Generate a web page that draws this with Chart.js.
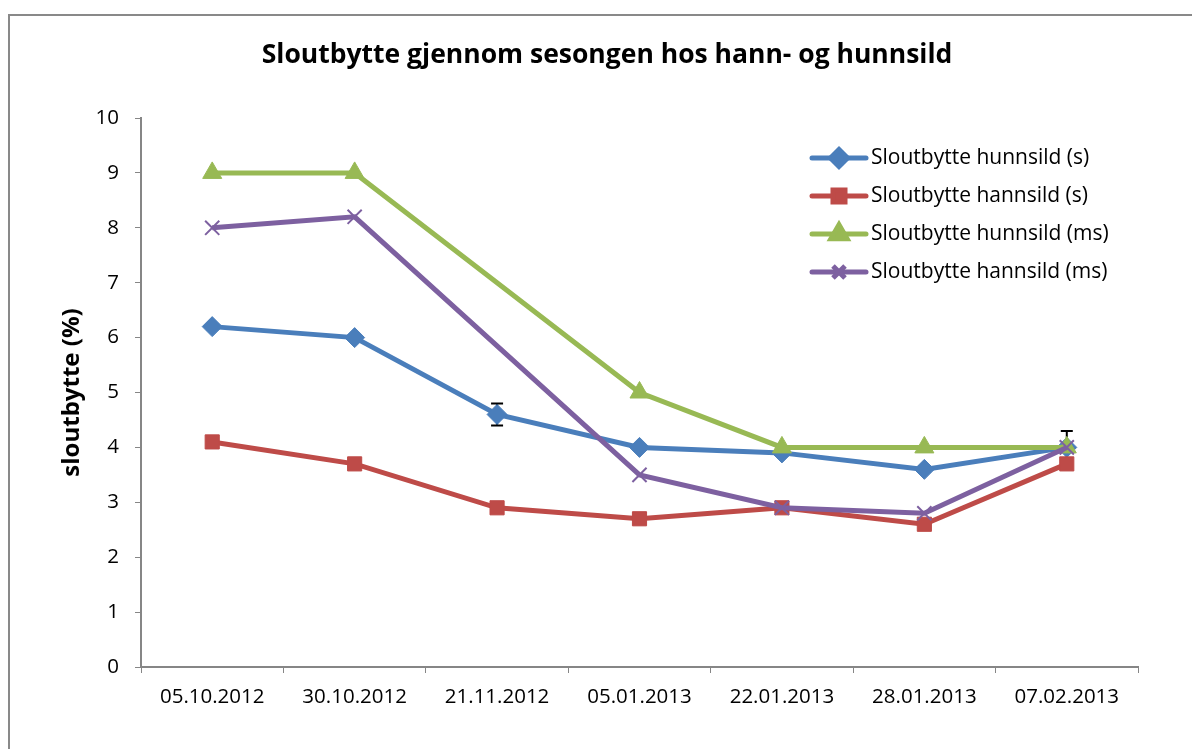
<!DOCTYPE html>
<html>
<head>
<meta charset="utf-8">
<script src="https://cdn.jsdelivr.net/npm/chart.js@4/dist/chart.umd.min.js"></script>
<style>
  html, body { margin: 0; padding: 0; background: #fff; }
  #wrap { position: relative; width: 1192px; height: 749px; overflow: hidden; }
  #frame { position: absolute; left: 8px; top: 14px; width: 1300px; height: 900px;
           border-left: 2px solid #898989; border-top: 2px solid #898989; }
  #chart { position: absolute; left: 0; top: 0; }
</style>
</head>
<body>
<div id="wrap">
  <div id="frame"></div>
  <canvas id="chart" width="1192" height="749"></canvas>
</div>
<script>
// data
const dates = ["05.10.2012", "30.10.2012", "21.11.2012", "05.01.2013", "22.01.2013", "28.01.2013", "07.02.2013"];
const hunnS = [6.2, 6.0, 4.6, 4.0, 3.9, 3.6, 4.0];
const hunnSErr = [0.05, 0, 0.2, 0, 0.05, 0.05, 0.3];
const hannS = [4.1, 3.7, 2.9, 2.7, 2.9, 2.6, 3.7];
const hunnMs = [9, 9, null, 5, 4, 4, 4];
const hannMs = [8, 8.2, null, 3.5, 2.9, 2.8, 4.0];
const yTicks = [0, 1, 2, 3, 4, 5, 6, 7, 8, 9, 10];
const chartTitle = "Sloutbytte gjennom sesongen hos hann- og hunnsild";

const FONT = "'Open Sans', 'Noto Sans', sans-serif";
const BLUE = "#4a7ebb", RED = "#be4b48", GREEN = "#98b954", PURPLE = "#7d60a0";

// title centred on the whole frame, not the plot
const frameTitle = {
  id: "frameTitle",
  afterDraw(chart) {
    const ctx = chart.ctx;
    ctx.save();
    ctx.fillStyle = "#000";
    ctx.font = "bold 26.5px " + FONT;
    ctx.textAlign = "center";
    ctx.textBaseline = "middle";
    ctx.fillText(chartTitle, 607, 55);
    ctx.restore();
  }
};

// black error bars on the blue series, drawn under the markers
const errorBars = {
  id: "errorBars",
  beforeDatasetsDraw(chart) {
    const ctx = chart.ctx;
    const y = chart.scales.y;
    const meta = chart.getDatasetMeta(0);
    ctx.save();
    ctx.strokeStyle = "#000";
    ctx.lineWidth = 2;
    meta.data.forEach((pt, i) => {
      const e = hunnSErr[i];
      if (!e) return;
      const top = y.getPixelForValue(hunnS[i] + e);
      const bot = y.getPixelForValue(hunnS[i] - e);
      ctx.beginPath();
      ctx.moveTo(pt.x, top); ctx.lineTo(pt.x, bot);
      ctx.moveTo(pt.x - 6, top); ctx.lineTo(pt.x + 6, top);
      ctx.moveTo(pt.x - 6, bot); ctx.lineTo(pt.x + 6, bot);
      ctx.stroke();
    });
    ctx.restore();
  }
};

// legend inside the plot, top right
const innerLegend = {
  id: "innerLegend",
  afterDraw(chart) {
    const ctx = chart.ctx;
    const x0 = 812, x1 = 866, rowY = [158, 196, 234, 272];
    ctx.save();
    chart.data.datasets.forEach((ds, i) => {
      const cy = rowY[i];
      ctx.strokeStyle = ds.borderColor;
      ctx.fillStyle = ds.borderColor;
      ctx.lineWidth = 5;
      ctx.lineCap = "round";
      ctx.beginPath(); ctx.moveTo(x0, cy); ctx.lineTo(x1, cy); ctx.stroke();
      ctx.lineCap = "butt";
      Chart.helpers.drawPoint(ctx, {
        pointStyle: ds.pointStyle, radius: ds.pointRadius * 0.85, rotation: 0,
        borderWidth: ds.pointBorderWidth
      }, (x0 + x1) / 2, cy);
      ctx.fillStyle = "#000";
      ctx.font = "21px " + FONT;
      ctx.textBaseline = "middle";
      ctx.fillText(ds.label, x1 + 5, cy);
    });
    ctx.restore();
  }
};

const mk = (label, data, color, style, r, order) => ({
  label, data, order,
  borderColor: color, backgroundColor: color,
  pointBackgroundColor: color, pointBorderColor: color,
  pointStyle: style, pointRadius: r, pointHoverRadius: r,
  pointBorderWidth: style === "crossRot" ? 2 : 1,
  borderWidth: 5, tension: 0, spanGaps: true
});

new Chart(document.getElementById("chart"), {
  type: "line",
  data: {
    labels: dates,
    datasets: [
      mk("Sloutbytte hunnsild (s)", hunnS, BLUE, "rectRot", 10, 4),
      mk("Sloutbytte hannsild (s)", hannS, RED, "rect", 10, 3),
      mk("Sloutbytte hunnsild (ms)", hunnMs, GREEN, "triangle", 11, 2),
      mk("Sloutbytte hannsild (ms)", hannMs, PURPLE, "crossRot", 10, 1)
    ]
  },
  options: {
    responsive: false,
    animation: false,
    events: [],
    layout: { padding: { left: 0, right: 54, top: 118, bottom: 0 } },
    plugins: {
      legend: { display: false },
      tooltip: { enabled: false },
      title: { display: false }
    },
    scales: {
      x: {
        offset: true,
        grid: { display: true, drawOnChartArea: false, drawTicks: true, tickLength: 6, color: "#868686", offset: true },
        border: { color: "#868686", width: 2 },
        ticks: { color: "#000", font: { family: FONT, size: 20.5 }, padding: 12, maxRotation: 0 },
        afterFit(scale) { scale.height = 82; }
      },
      y: {
        min: 0, max: 10,
        afterBuildTicks(scale) { scale.ticks = yTicks.map(v => ({ value: v })); },
        grid: { display: true, drawOnChartArea: false, drawTicks: true, tickLength: 6, color: "#868686" },
        border: { color: "#868686", width: 2 },
        ticks: { color: "#000", font: { family: FONT, size: 20.5 }, padding: 16 },
        title: {
          display: true, text: "sloutbytte (%)", color: "#000",
          font: { family: FONT, size: 24, weight: "bold", lineHeight: 1.2 },
          padding: { top: 58, bottom: 0 }
        },
        afterFit(scale) { scale.width = 141; }
      }
    }
  },
  plugins: [errorBars, innerLegend, frameTitle]
});
</script>
</body>
</html>
